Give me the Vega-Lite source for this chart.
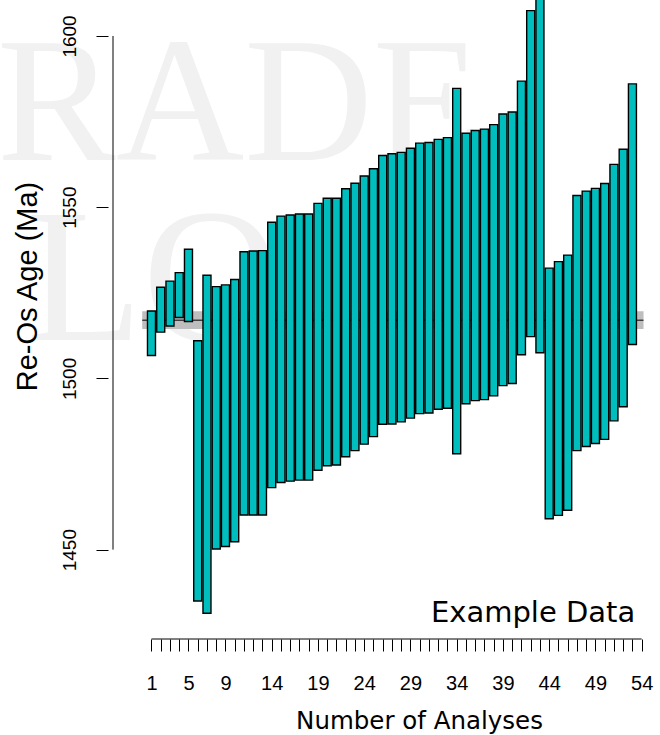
{
  "$schema": "https://vega.github.io/schema/vega-lite/v6.json",
  "width": 552,
  "height": 639,
  "autosize": {"type": "none"},
  "padding": {"left": 108, "top": 0, "right": 0, "bottom": 96},
  "background": "white",
  "config": {"view": {"stroke": null}, "font": "Liberation Sans"},
  "datasets": {
    "bars": [
      {"n": 1, "lo": 1506.7, "hi": 1519.7},
      {"n": 2, "lo": 1513.5, "hi": 1526.6},
      {"n": 3, "lo": 1515.3, "hi": 1528.4},
      {"n": 4, "lo": 1517.8, "hi": 1530.9},
      {"n": 5, "lo": 1516.6, "hi": 1537.7},
      {"n": 6, "lo": 1435.0, "hi": 1511.0},
      {"n": 7, "lo": 1431.4, "hi": 1530.1},
      {"n": 8, "lo": 1450.2, "hi": 1526.8},
      {"n": 9, "lo": 1450.9, "hi": 1527.3},
      {"n": 10, "lo": 1452.3, "hi": 1528.9},
      {"n": 11, "lo": 1460.1, "hi": 1537.0},
      {"n": 12, "lo": 1460.1, "hi": 1537.2},
      {"n": 13, "lo": 1460.1, "hi": 1537.3},
      {"n": 14, "lo": 1468.1, "hi": 1545.6},
      {"n": 15, "lo": 1469.6, "hi": 1547.4},
      {"n": 16, "lo": 1470.0, "hi": 1547.7},
      {"n": 17, "lo": 1470.3, "hi": 1548.0},
      {"n": 18, "lo": 1470.3, "hi": 1548.0},
      {"n": 19, "lo": 1473.2, "hi": 1551.1},
      {"n": 20, "lo": 1474.5, "hi": 1552.6},
      {"n": 21, "lo": 1474.7, "hi": 1552.6},
      {"n": 22, "lo": 1477.1, "hi": 1555.4},
      {"n": 23, "lo": 1478.9, "hi": 1557.0},
      {"n": 24, "lo": 1480.8, "hi": 1559.1},
      {"n": 25, "lo": 1483.0, "hi": 1561.2},
      {"n": 26, "lo": 1486.6, "hi": 1565.1},
      {"n": 27, "lo": 1486.7, "hi": 1565.6},
      {"n": 28, "lo": 1487.3, "hi": 1566.0},
      {"n": 29, "lo": 1488.4, "hi": 1567.2},
      {"n": 30, "lo": 1489.7, "hi": 1568.7},
      {"n": 31, "lo": 1489.9, "hi": 1568.9},
      {"n": 32, "lo": 1491.0, "hi": 1569.8},
      {"n": 33, "lo": 1491.3, "hi": 1570.3},
      {"n": 34, "lo": 1478.0, "hi": 1584.7},
      {"n": 35, "lo": 1492.6, "hi": 1571.6},
      {"n": 36, "lo": 1493.5, "hi": 1572.4},
      {"n": 37, "lo": 1493.8, "hi": 1572.8},
      {"n": 38, "lo": 1494.9, "hi": 1574.1},
      {"n": 39, "lo": 1497.9, "hi": 1577.2},
      {"n": 40, "lo": 1498.5, "hi": 1577.8},
      {"n": 41, "lo": 1506.9, "hi": 1586.8},
      {"n": 42, "lo": 1512.2, "hi": 1607.4},
      {"n": 43, "lo": 1507.5, "hi": 1615.0},
      {"n": 44, "lo": 1459.0, "hi": 1532.2},
      {"n": 45, "lo": 1460.0, "hi": 1534.1},
      {"n": 46, "lo": 1461.5, "hi": 1536.0},
      {"n": 47, "lo": 1478.9, "hi": 1553.4},
      {"n": 48, "lo": 1480.1, "hi": 1554.7},
      {"n": 49, "lo": 1481.0, "hi": 1555.5},
      {"n": 50, "lo": 1482.2, "hi": 1556.9},
      {"n": 51, "lo": 1487.6, "hi": 1562.5},
      {"n": 52, "lo": 1491.7, "hi": 1566.9},
      {"n": 53, "lo": 1509.9, "hi": 1586.0}
    ],
    "mean": [{"x0": 0, "x1": 54.2, "mean": 1517.0, "lo": 1514.4, "hi": 1519.6}],
    "yaxisline": [{"y0": 1450, "y1": 1600}],
    "xaxisline": [{"x0": 1, "x1": 54}],
    "wm1": [{"txt": "RADE"}],
    "wm2": [{"txt": "LO"}],
    "note": [{"txt": "Example Data"}]
  },
  "layer": [
    {
      "data": {"name": "wm1"},
      "mark": {"type": "text", "font": "Liberation Serif", "fontSize": 178, "color": "#f1f1f1", "align": "left", "baseline": "alphabetic"},
      "encoding": {
        "text": {"field": "txt"},
        "x": {"datum": -15.7, "type": "quantitative", "scale": {"domain": [-3.16, 55.44], "nice": false, "zero": false}},
        "y": {"datum": 1563.8, "type": "quantitative", "scale": {"domain": [1423.9, 1610.5], "nice": false, "zero": false}}
      }
    },
    {
      "data": {"name": "wm2"},
      "mark": {"type": "text", "font": "Liberation Serif", "fontSize": 190, "color": "#f1f1f1", "align": "left", "baseline": "alphabetic"},
      "encoding": {
        "text": {"field": "txt"},
        "x": {"datum": -12.5, "type": "quantitative", "scale": {"domain": [-3.16, 55.44], "nice": false, "zero": false}},
        "y": {"datum": 1511.2, "type": "quantitative", "scale": {"domain": [1423.9, 1610.5], "nice": false, "zero": false}}
      }
    },
    {
      "data": {"name": "mean"},
      "mark": {"type": "rect", "fill": "#BEBEBE"},
      "encoding": {
        "x": {"field": "x0", "type": "quantitative", "scale": {"domain": [-3.16, 55.44], "nice": false, "zero": false}},
        "x2": {"field": "x1"},
        "y": {"field": "lo", "type": "quantitative", "scale": {"domain": [1423.9, 1610.5], "nice": false, "zero": false}},
        "y2": {"field": "hi"}
      }
    },
    {
      "data": {"name": "mean"},
      "mark": {"type": "rule", "color": "black", "strokeWidth": 1},
      "encoding": {
        "x": {"field": "x0", "type": "quantitative", "scale": {"domain": [-3.16, 55.44], "nice": false, "zero": false}},
        "x2": {"field": "x1"},
        "y": {"field": "mean", "type": "quantitative", "scale": {"domain": [1423.9, 1610.5], "nice": false, "zero": false}}
      }
    },
    {
      "data": {"name": "bars"},
      "mark": {"type": "bar", "width": 8, "fill": "#00BEBE", "stroke": "black", "strokeWidth": 1.4, "clip": true},
      "encoding": {
        "x": {
          "field": "n", "type": "quantitative",
          "scale": {"domain": [-3.16, 55.44], "nice": false, "zero": false},
          "axis": {
            "values": [1,2,3,4,5,6,7,8,9,10,11,12,13,14,15,16,17,18,19,20,21,22,23,24,25,26,27,28,29,30,31,32,33,34,35,36,37,38,39,40,41,42,43,44,45,46,47,48,49,50,51,52,53,54],
            "tickCount": 200,
            "format": "d",
            "labelExpr": "indexof([1,5,9,14,19,24,29,34,39,44,49,54], datum.value) >= 0 ? datum.label : ''",
            "labelOverlap": false,
            "labelFlush": false,
            "domain": false,
            "grid": false,
            "zindex": 1,
            "tickSize": 12,
            "tickColor": "black",
            "tickWidth": 1,
            "labelColor": "black",
            "labelFont": "Liberation Sans",
            "labelFontSize": 20,
            "labelPadding": 22,
            "title": "Number of Analyses",
            "titleFont": "DejaVu Sans",
            "titleFontSize": 24.5,
            "titleFontWeight": "normal",
            "titleColor": "black",
            "titleX": 311,
            "titleY": 89,
            "titleAlign": "center",
            "titleBaseline": "alphabetic"
          }
        },
        "y": {
          "field": "lo", "type": "quantitative",
          "scale": {"domain": [1423.9, 1610.5], "nice": false, "zero": false},
          "axis": {
            "values": [1450, 1500, 1550, 1600],
            "format": "d",
            "domain": false,
            "grid": false,
            "zindex": 1,
            "tickSize": 12,
            "tickColor": "black",
            "tickWidth": 1,
            "labelAngle": -90,
            "labelAlign": "center",
            "labelBaseline": "alphabetic",
            "labelPadding": 21,
            "labelColor": "black",
            "labelFont": "Liberation Sans",
            "labelFontSize": 19,
            "title": "Re-Os Age (Ma)",
            "titleFont": "Liberation Sans",
            "titleFontSize": 29,
            "titleFontWeight": "normal",
            "titleColor": "black",
            "titleAngle": -90,
            "titleX": -72,
            "titleY": 286,
            "titleAlign": "center",
            "titleBaseline": "alphabetic"
          }
        },
        "y2": {"field": "hi"}
      }
    },
    {
      "data": {"name": "yaxisline"},
      "mark": {"type": "rule", "color": "black", "strokeWidth": 1},
      "encoding": {
        "x": {"datum": -3.16, "type": "quantitative", "scale": {"domain": [-3.16, 55.44], "nice": false, "zero": false}},
        "y": {"field": "y0", "type": "quantitative", "scale": {"domain": [1423.9, 1610.5], "nice": false, "zero": false}},
        "y2": {"field": "y1"}
      }
    },
    {
      "data": {"name": "xaxisline"},
      "mark": {"type": "rule", "color": "black", "strokeWidth": 1},
      "encoding": {
        "x": {"field": "x0", "type": "quantitative", "scale": {"domain": [-3.16, 55.44], "nice": false, "zero": false}},
        "x2": {"field": "x1"},
        "y": {"datum": 1423.9, "type": "quantitative", "scale": {"domain": [1423.9, 1610.5], "nice": false, "zero": false}}
      }
    },
    {
      "data": {"name": "note"},
      "mark": {"type": "text", "font": "DejaVu Sans", "fontSize": 29, "color": "black", "align": "right", "baseline": "alphabetic"},
      "encoding": {
        "text": {"field": "txt"},
        "x": {"datum": 53.3, "type": "quantitative", "scale": {"domain": [-3.16, 55.44], "nice": false, "zero": false}},
        "y": {"datum": 1428.9, "type": "quantitative", "scale": {"domain": [1423.9, 1610.5], "nice": false, "zero": false}}
      }
    }
  ]
}
